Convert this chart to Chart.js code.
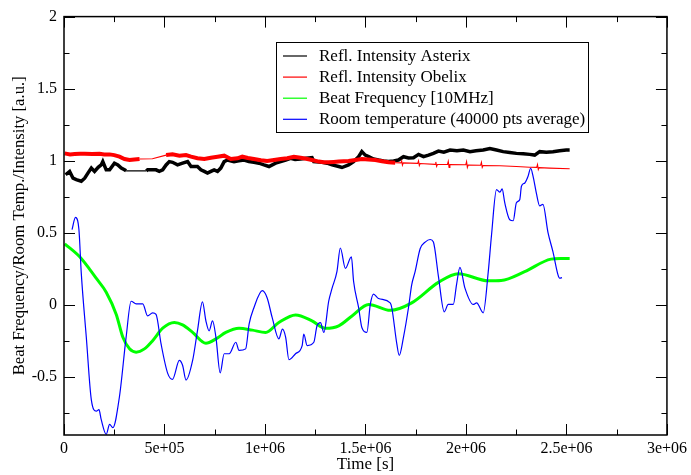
<!DOCTYPE html>
<html>
<head>
<meta charset="utf-8">
<title>Beat frequency / room temperature / intensity</title>
<script src="https://cdn.jsdelivr.net/npm/chart.js@4.4.1/dist/chart.umd.min.js"></script>
<style>
  html, body { margin: 0; padding: 0; background: #fff; }
  #wrap { width: 691px; height: 475px; }
</style>
</head>
<body>
<div id="wrap"><canvas id="chart" width="691" height="475"></canvas></div>
<script>
// time values are in units of 1e6 s
const asterixT = [0.008, 0.028, 0.045, 0.061, 0.086, 0.103, 0.119, 0.136, 0.152, 0.170, 0.185, 0.193, 0.210, 0.227, 0.251, 0.268, 0.285, 0.301, 0.309,
    0.409, 0.416, 0.458, 0.474, 0.491, 0.508, 0.524, 0.540, 0.565, 0.590, 0.615, 0.632, 0.664, 0.681, 0.698, 0.714, 0.731, 0.747, 0.764, 0.780,
    0.797, 0.813, 0.846, 0.870, 0.896, 0.920, 0.945, 0.970, 0.995, 1.020, 1.053, 1.078, 1.103, 1.127, 1.150, 1.177, 1.205, 1.234, 1.243, 1.284,
    1.309, 1.334, 1.367, 1.383, 1.416, 1.441, 1.466, 1.482, 1.499, 1.516, 1.540, 1.565, 1.590, 1.615, 1.640, 1.664, 1.689, 1.714, 1.739, 1.764,
    1.789, 1.814, 1.838, 1.863, 1.890, 1.921, 1.955, 1.987, 2.020, 2.050, 2.086, 2.119, 2.152, 2.185, 2.218, 2.251, 2.285, 2.317, 2.342, 2.367,
    2.400, 2.433, 2.466, 2.499, 2.516];
const asterixI = [0.904, 0.927, 0.880, 0.870, 0.859, 0.880, 0.915, 0.950, 0.927, 0.955, 0.972, 0.995, 0.938, 0.938, 0.984, 0.972, 0.950, 0.938, 0.931,
    0.931, 0.938, 0.938, 0.927, 0.938, 0.972, 0.995, 0.990, 0.972, 0.984, 0.995, 0.961, 0.961, 0.938, 0.927, 0.915, 0.927, 0.938, 0.927, 0.950,
    0.995, 1.006, 0.995, 1.000, 1.006, 0.995, 0.990, 0.984, 0.972, 0.961, 0.984, 0.995, 1.006, 1.018, 1.010, 1.013, 1.018, 1.022, 0.995, 0.990,
    0.984, 0.972, 0.961, 0.954, 0.972, 0.995, 1.029, 1.064, 1.040, 1.029, 1.013, 1.006, 1.000, 0.995, 1.000, 1.006, 1.029, 1.020, 1.022, 1.045,
    1.029, 1.040, 1.052, 1.068, 1.060, 1.075, 1.070, 1.075, 1.064, 1.070, 1.075, 1.086, 1.075, 1.064, 1.058, 1.052, 1.050, 1.045, 1.040, 1.064,
    1.060, 1.064, 1.070, 1.075, 1.075];

const obelixT = [0.003, 0.030, 0.053, 0.080, 0.103, 0.140, 0.177, 0.200, 0.227, 0.250, 0.276, 0.301, 0.326, 0.350, 0.376, 0.440, 0.508, 0.540,
    0.574, 0.607, 0.632, 0.664, 0.698, 0.731, 0.764, 0.797, 0.830, 0.863, 0.887, 0.915, 0.945, 0.980, 1.011, 1.045, 1.078, 1.111, 1.144, 1.177,
    1.205, 1.234, 1.268, 1.292, 1.317, 1.342, 1.367, 1.392, 1.416, 1.450, 1.482, 1.515, 1.549, 1.582, 1.615,
    1.648, 1.676, 1.680, 1.684, 1.688, 1.760, 1.764, 1.768, 1.772, 1.846, 1.850, 1.854, 1.858, 1.908, 1.912, 1.916, 1.920,
    1.999, 2.003, 2.007, 2.011, 2.073, 2.077, 2.081, 2.085, 2.169, 2.251, 2.317, 2.352, 2.356, 2.360, 2.364, 2.416, 2.516];
const obelixI = [1.052, 1.045, 1.048, 1.050, 1.050, 1.047, 1.050, 1.045, 1.045, 1.040, 1.029, 1.013, 1.006, 1.010, 1.013, 1.015, 1.040, 1.045,
    1.036, 1.040, 1.029, 1.018, 1.013, 1.022, 1.029, 1.036, 1.013, 1.018, 1.029, 1.020, 1.013, 1.005, 0.999, 1.006, 1.013, 1.018, 1.029, 1.022,
    1.015, 1.006, 0.995, 0.990, 0.990, 0.993, 0.995, 0.997, 0.999, 1.006, 1.013, 1.010, 1.006, 0.998, 0.990,
    0.987, 0.986, 1.000, 0.970, 0.986, 0.983, 1.000, 0.968, 0.982, 0.976, 0.993, 0.962, 0.975, 0.975, 0.997, 0.955, 0.974,
    0.973, 0.995, 0.955, 0.971, 0.970, 0.990, 0.955, 0.968, 0.966, 0.961, 0.956, 0.955, 0.975, 0.940, 0.953, 0.950, 0.945];

const beatT = [0.0035, 0.078, 0.127, 0.161, 0.210, 0.260, 0.293, 0.326, 0.359, 0.400, 0.441, 0.491, 0.549, 0.590, 0.640, 0.706, 0.756, 0.805,
    0.871, 0.937, 1.003, 1.069, 1.152, 1.234, 1.301, 1.367, 1.433, 1.516, 1.623, 1.730, 1.863, 1.962, 2.110, 2.175, 2.292, 2.423, 2.470, 2.516];
const beatF = [0.425, 0.335, 0.250, 0.185, 0.090, -0.064, -0.223, -0.303, -0.326, -0.303, -0.246, -0.160, -0.120, -0.137, -0.189, -0.264, -0.234, -0.189,
    -0.160, -0.173, -0.189, -0.120, -0.068, -0.109, -0.160, -0.143, -0.075, 0.005, -0.036, 0.016, 0.158, 0.218, 0.169, 0.171, 0.232, 0.319, 0.323, 0.323];

const roomT = [0.040, 0.057, 0.074, 0.086, 0.111, 0.136, 0.161, 0.174, 0.185, 0.210, 0.227, 0.243, 0.276, 0.309, 0.334, 0.359, 0.392, 0.416,
    0.441, 0.458, 0.483, 0.516, 0.540, 0.574, 0.590, 0.607, 0.640, 0.664, 0.689, 0.706, 0.722, 0.739, 0.756, 0.777, 0.797, 0.822, 0.855, 0.871,
    0.904, 0.921, 0.945, 0.987, 1.011, 1.036, 1.069, 1.087, 1.103, 1.119, 1.152, 1.185, 1.193, 1.210, 1.243, 1.259, 1.276, 1.293, 1.317, 1.334,
    1.358, 1.375, 1.400, 1.430, 1.441, 1.466, 1.482, 1.507, 1.524, 1.540, 1.565, 1.623, 1.631, 1.656, 1.668, 1.689, 1.714, 1.730, 1.747, 1.772,
    1.797, 1.822, 1.838, 1.863, 1.892, 1.912, 1.937, 1.953, 1.970, 1.995, 2.036, 2.053, 2.086, 2.111, 2.127, 2.152, 2.169, 2.180, 2.193, 2.218,
    2.235, 2.251, 2.268, 2.276, 2.293, 2.309, 2.322, 2.334, 2.350, 2.367, 2.383, 2.408, 2.433, 2.458, 2.466, 2.478];
const roomV = [0.524, 0.608, 0.528, 0.220, -0.223, -0.656, -0.735, -0.724, -0.792, -0.895, -0.826, -0.849, -0.633, -0.223, 0.027, 0.009, 0.009, -0.075,
    -0.053, -0.064, -0.269, -0.473, -0.514, -0.383, -0.417, -0.519, -0.383, -0.178, 0.023, -0.109, -0.178, -0.109, -0.223, -0.469, -0.337, -0.337, -0.257, -0.314,
    -0.303, -0.132, -0.018, 0.100, 0.050, -0.087, -0.234, -0.166, -0.223, -0.378, -0.337, -0.280, -0.200, -0.280, -0.257, -0.143, -0.121, -0.189, 0.027, 0.118,
    0.232, 0.396, 0.255, 0.335, 0.164, -0.018, -0.155, -0.189, 0.005, 0.077, 0.046, 0.016, -0.018, -0.269, -0.348, -0.223, -0.018, 0.141, 0.232, 0.391,
    0.437, 0.455, 0.437, 0.200, -0.046, 0.005, 0.005, 0.141, 0.262, 0.118, 0.005, 0.016, -0.053, 0.232, 0.483, 0.801, 0.783, 0.806, 0.710, 0.592,
    0.585, 0.710, 0.733, 0.824, 0.847, 0.893, 0.949, 0.893, 0.779, 0.688, 0.699, 0.505, 0.369, 0.210, 0.187, 0.191];

const xTickValues = [0, 5e5, 1e6, 1.5e6, 2e6, 2.5e6, 3e6];
const xTickLabels = ['0', '5e+05', '1e+06', '1.5e+06', '2e+06', '2.5e+06', '3e+06'];
const xMinorTicks = [2.5e5, 7.5e5, 1.25e6, 1.75e6, 2.25e6, 2.75e6];
const yTickValues = [-0.5, 0, 0.5, 1, 1.5, 2];
const yTickLabels = ['-0.5', '0', '0.5', '1', '1.5', '2'];
const yMinorTicks = [-0.75, -0.25, 0.25, 0.75, 1.25, 1.75];

const serif = 'Liberation Serif';

function points(ts, vs) {
    return ts.map((t, i) => ({ x: t * 1e6, y: vs[i] }));
}

// thin line across data gaps, thick where the data is dense and noisy
function gapWidth(thick, thin, until) {
    return ctx => {
        const x0 = ctx.p0.parsed.x, x1 = ctx.p1.parsed.x;
        if (x1 - x0 > 6e4 || x0 >= until) return thin;
        return thick;
    };
}

const frameTicks = {
    id: 'frameTicks',
    afterDatasetsDraw(chart) {
        const { ctx, chartArea: a, scales: { x, y } } = chart;
        ctx.save();
        ctx.strokeStyle = '#000';
        ctx.lineWidth = 1;
        ctx.beginPath();
        function xMarks(vals, len) {
            vals.forEach(v => {
                const px = Math.round(x.getPixelForValue(v)) + 0.5;
                ctx.moveTo(px, a.bottom); ctx.lineTo(px, a.bottom - len);
                ctx.moveTo(px, a.top); ctx.lineTo(px, a.top + len);
            });
        }
        function yMarks(vals, len) {
            vals.forEach(v => {
                const py = Math.round(y.getPixelForValue(v)) + 0.5;
                ctx.moveTo(a.left, py); ctx.lineTo(a.left + len, py);
                ctx.moveTo(a.right, py); ctx.lineTo(a.right - len, py);
            });
        }
        xMarks(xTickValues, 11);
        xMarks(xMinorTicks, 5.5);
        yMarks(yTickValues, 11);
        yMarks(yMinorTicks, 5.5);
        ctx.stroke();
        ctx.lineWidth = 1.5;
        ctx.strokeRect(a.left, a.top, a.right - a.left, a.bottom - a.top);
        ctx.restore();
    }
};

const boxLegend = {
    id: 'boxLegend',
    afterDraw(chart) {
        const ctx = chart.ctx;
        ctx.save();
        ctx.fillStyle = '#fff';
        ctx.fillRect(276, 42, 313, 91);
        ctx.strokeStyle = '#000';
        ctx.lineWidth = 1;
        ctx.strokeRect(276.5, 42.5, 312, 90);
        ctx.font = '17px "' + serif + '"';
        ctx.textBaseline = 'middle';
        chart.data.datasets.forEach((ds, i) => {
            const cy = 56 + i * 21.1;
            ctx.strokeStyle = ds.borderColor;
            ctx.lineWidth = 1.2;
            ctx.beginPath();
            ctx.moveTo(283, cy);
            ctx.lineTo(307, cy);
            ctx.stroke();
            ctx.fillStyle = '#000';
            ctx.fillText(ds.label, 319, cy + 0.5);
        });
        ctx.restore();
    }
};

const tickFont = { family: serif, size: 16 };

new Chart(document.getElementById('chart'), {
    type: 'line',
    data: {
        datasets: [{
            label: 'Refl. Intensity Asterix',
            data: points(asterixT, asterixI),
            borderColor: '#000000',
            borderWidth: 3.5,
            segment: { borderWidth: gapWidth(3.5, 1.2, 9e6) },
            order: 4
        }, {
            label: 'Refl. Intensity Obelix',
            data: points(obelixT, obelixI),
            borderColor: '#ff0000',
            borderWidth: 3.5,
            segment: { borderWidth: gapWidth(4, 1.1, 1.62e6) },
            order: 3
        }, {
            label: 'Beat Frequency [10MHz]',
            data: points(beatT, beatF),
            borderColor: '#00ff00',
            borderWidth: 3,
            cubicInterpolationMode: 'monotone',
            order: 2
        }, {
            label: 'Room temperature (40000 pts average)',
            data: points(roomT, roomV),
            borderColor: '#0000ff',
            borderWidth: 1.2,
            cubicInterpolationMode: 'monotone',
            order: 1
        }]
    },
    options: {
        responsive: false,
        animation: false,
        parsing: false,
        elements: { point: { radius: 0 }, line: { fill: false } },
        layout: { padding: { left: 0, right: 22, top: 12, bottom: 0 } },
        plugins: { legend: { display: false }, tooltip: { enabled: false } },
        scales: {
            x: {
                type: 'linear',
                min: 0,
                max: 3e6,
                afterBuildTicks: s => { s.ticks = xTickValues.map(v => ({ value: v })); },
                afterFit: s => { s.height = 40; },
                ticks: {
                    callback: v => xTickLabels[xTickValues.indexOf(v)],
                    font: tickFont,
                    color: '#000',
                    padding: 4,
                    maxRotation: 0,
                    autoSkip: false
                },
                grid: { display: false, drawTicks: false },
                border: { display: false },
                title: { display: true, text: 'Time [s]', font: { family: serif, size: 17 }, color: '#000', padding: { top: 0, bottom: 0 } }
            },
            y: {
                type: 'linear',
                min: -0.9,
                max: 2,
                afterBuildTicks: s => { s.ticks = yTickValues.map(v => ({ value: v })); },
                afterFit: s => { s.width = 64; },
                ticks: {
                    callback: v => yTickLabels[yTickValues.indexOf(v)],
                    font: tickFont,
                    color: '#000',
                    padding: 7
                },
                grid: { display: false, drawTicks: false },
                border: { display: false },
                title: {
                    display: true,
                    text: 'Beat Frequency/Room Temp./Intensity [a.u.]',
                    font: { family: serif, size: 16.7 },
                    color: '#000',
                    padding: { top: 10, bottom: 0 }
                }
            }
        }
    },
    plugins: [frameTicks, boxLegend]
});
</script>
</body>
</html>
